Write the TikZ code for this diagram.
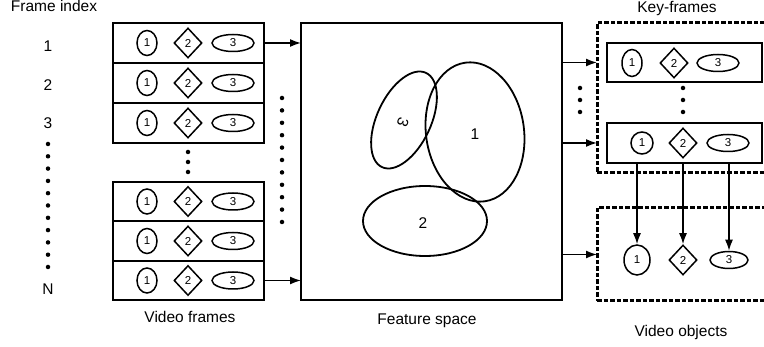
\documentclass[tikz,border=0pt]{standalone}
\usepackage{fontspec}
\setmainfont{Liberation Sans}
\usetikzlibrary{shapes.geometric,arrows.meta}
\begin{document}
\begin{tikzpicture}[x=1pt,y=-1pt,
  lbl/.style={font=\fontsize{15.5}{16}\selectfont},
  small/.style={font=\fontsize{11.5}{12}\selectfont},
  framebox/.style={draw,line width=1.6pt,minimum width=151pt,minimum height=39.5pt,inner sep=0pt,outer sep=0pt},
  blob/.style={draw,ellipse,line width=1.5pt,minimum width=20pt,minimum height=25pt,inner sep=0pt,small},
  dia/.style={draw,diamond,line width=1.5pt,minimum width=28pt,minimum height=30pt,inner sep=0pt,small},
  oval/.style={draw,ellipse,line width=1.5pt,minimum width=42pt,minimum height=17pt,inner sep=0pt,small},
  arr/.style={line width=1.6pt,-{Latex[length=11pt,width=8pt]}},
  dbox/.style={draw,line width=3pt,dash pattern=on 4.5pt off 2pt,inner sep=0pt,outer sep=0pt,anchor=north west},
  fsell/.style={draw,ellipse,line width=1.8pt,inner sep=0pt},
  dot/.style={circle,fill,inner sep=0pt,minimum size=4.5pt},
]
\useasboundingbox (0,0) rectangle (764,347);

% frame index column
\node[lbl,anchor=base] (fi) at (54,12) {Frame index};
\node[lbl] (i1) at (48,46) {1};
\node[lbl] (i2) at (48,85) {2};
\node[lbl] (i3) at (48,123) {3};
\node[lbl] (iN) at (48,289) {N};
\foreach \k in {0,...,10} \node[dot] (cd\k) at (48,{144+12.3*\k}) {};

% video frames
\foreach \n/\y in {1/43,2/83,3/123,4/201.5,5/241,6/280.5} {
  \node[framebox] (r\n) at (188.5,\y) {};
  \node[blob] (r\n-a) at (147,\y) {1};
  \node[dia] (r\n-b) at (188,\y) {2};
  \node[oval] (r\n-c) at (233,\y) {3};
}
\foreach \k in {0,1,2} \node[dot] (gd\k) at (188,{152+10*\k}) {};
\foreach \k in {0,...,10} \node[dot] (rd\k) at (282,{98+12.4*\k}) {};
\node[lbl,anchor=base] (vf) at (190,323) {Video frames};

% feature space
\node[draw,line width=1.6pt,minimum width=261pt,minimum height=277pt,inner sep=0pt,outer sep=0pt] (fs) at (431.5,161.5) {};
\node[fsell,minimum width=98pt,minimum height=140pt,rotate=8] (e1) at (475,132) {};
\node[lbl] (t1) at (475,134) {1};
\node[fsell,minimum width=104pt,minimum height=54pt,rotate=65] (e3) at (404,120) {};
\node[lbl,rotate=-110] (t3) at (403,122) {3};
\node[fsell,minimum width=124pt,minimum height=70pt] (e2) at (425,221) {};
\node[lbl] (t2) at (423,223) {2};
\node[lbl,anchor=base] (fst) at (427,325) {Feature space};

\draw[arr] (r1.east) -- (r1.east -| fs.west);
\draw[arr] (r6.east) -- (r6.east -| fs.west);

% key-frames
\node[dbox,minimum width=220pt,minimum height=150pt] (kf) at (597,23) {};
\node[lbl,anchor=base] (kft) at (677,13) {Key-frames};
\node[framebox,minimum width=155pt,minimum height=39pt] (k1) at (684.5,62.5) {};
\node[blob,minimum height=27pt] (k1-a) at (632,63) {1};
\node[dia] (k1-b) at (674,63) {2};
\node[oval] (k1-c) at (718,63) {3};
\node[framebox,minimum width=155pt,minimum height=40pt] (k2) at (684.5,143) {};
\node[blob,minimum width=22pt,minimum height=22pt] (k2-a) at (642,143) {1};
\node[dia] (k2-b) at (683,143) {2};
\node[oval] (k2-c) at (728,143) {3};
\foreach \k in {0,1,2} \node[dot] (kd\k) at (683,{88+12*\k}) {};
\foreach \k in {0,1,2} \node[dot] (ld\k) at (580,{88+12*\k}) {};

\draw[arr] (fs.east |- k1) -- (kf.west |- k1);
\draw[arr] (fs.east |- k2) -- (kf.west |- k2);

% video objects
\node[dbox,minimum width=220pt,minimum height=93pt] (vo) at (597,208) {};
\node[blob,minimum width=26pt,minimum height=30pt] (vo1) at (637,260) {1};
\node[dia] (vo2) at (683,260) {2};
\node[oval,minimum width=38pt] (vo3) at (729,260) {3};
\node[lbl,anchor=base] (vot) at (681,337) {Video objects};

\draw[arr] (fs.east |- vo) -- (vo.west);
\draw[arr] (vo1 |- k2.south) -- (vo1.north);
\draw[arr] (vo2 |- k2.south) -- (vo2.north);
\draw[arr] (vo3 |- k2.south) -- (vo3.north);
\end{tikzpicture}
\end{document}
